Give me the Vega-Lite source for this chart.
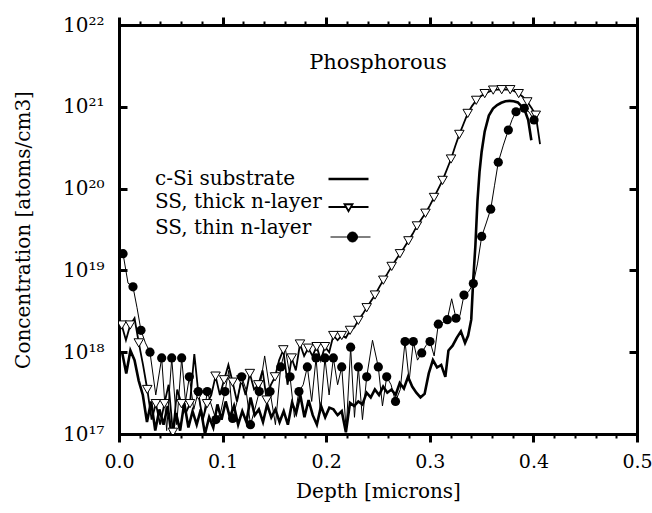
{
"$schema": "https://vega.github.io/schema/vega-lite/v6.json",
"width": 518, "height": 409,
"autosize": "none",
"padding": {"left": 119, "top": 25, "right": 15, "bottom": 79},
"background": "white",
"title": {"text": "Phosphorous", "offset": -58, "fontSize": 21, "font": "DejaVu Serif", "fontWeight": "normal", "color": "black", "anchor": "middle"},
"config": {"view": {"stroke": null}, "font": "DejaVu Serif"},
"data": {"values": [
{"s":"C","x":0.003,"y":1.0e18},{"s":"C","x":0.007,"y":5.5e17},{"s":"C","x":0.011,"y":1.05e18},{"s":"C","x":0.015,"y":8.0e17},{"s":"C","x":0.019,"y":4.5e17},{"s":"C","x":0.023,"y":3.0e17},{"s":"C","x":0.027,"y":1.4e17},{"s":"C","x":0.031,"y":2.5e17},{"s":"C","x":0.035,"y":1.1e17},{"s":"C","x":0.039,"y":2.0e17},{"s":"C","x":0.043,"y":1.3e17},{"s":"C","x":0.047,"y":2.2e17},{"s":"C","x":0.051,"y":9e16},{"s":"C","x":0.055,"y":1.8e17},{"s":"C","x":0.059,"y":1.1e17},{"s":"C","x":0.063,"y":2.4e17},{"s":"C","x":0.067,"y":1.2e17},{"s":"C","x":0.071,"y":1.9e17},{"s":"C","x":0.075,"y":1.3e17},{"s":"C","x":0.079,"y":2.0e17},{"s":"C","x":0.083,"y":1.0e17},{"s":"C","x":0.087,"y":1.6e17},{"s":"C","x":0.091,"y":1.2e17},{"s":"C","x":0.095,"y":2.3e17},{"s":"C","x":0.099,"y":1.5e17},{"s":"C","x":0.103,"y":2.5e17},{"s":"C","x":0.107,"y":1.6e17},{"s":"C","x":0.111,"y":2.2e17},{"s":"C","x":0.115,"y":1.3e17},{"s":"C","x":0.119,"y":1.9e17},{"s":"C","x":0.123,"y":1.4e17},{"s":"C","x":0.127,"y":2.8e17},{"s":"C","x":0.131,"y":1.7e17},{"s":"C","x":0.135,"y":2.0e17},{"s":"C","x":0.139,"y":1.4e17},{"s":"C","x":0.143,"y":2.3e17},{"s":"C","x":0.147,"y":1.6e17},{"s":"C","x":0.151,"y":2.0e17},{"s":"C","x":0.155,"y":1.4e17},{"s":"C","x":0.159,"y":1.9e17},{"s":"C","x":0.163,"y":1.3e17},{"s":"C","x":0.167,"y":2.4e17},{"s":"C","x":0.171,"y":1.8e17},{"s":"C","x":0.175,"y":3.0e17},{"s":"C","x":0.179,"y":1.6e17},{"s":"C","x":0.183,"y":2.6e17},{"s":"C","x":0.187,"y":1.7e17},{"s":"C","x":0.191,"y":1.3e17},{"s":"C","x":0.195,"y":2.2e17},{"s":"C","x":0.199,"y":1.6e17},{"s":"C","x":0.203,"y":2.1e17},{"s":"C","x":0.207,"y":2.0e17},{"s":"C","x":0.211,"y":1.7e17},{"s":"C","x":0.215,"y":1.9e17},{"s":"C","x":0.219,"y":1.05e17},{"s":"C","x":0.223,"y":2.4e17},{"s":"C","x":0.227,"y":2.2e17},{"s":"C","x":0.231,"y":2.5e17},{"s":"C","x":0.235,"y":2.3e17},{"s":"C","x":0.239,"y":3.2e17},{"s":"C","x":0.243,"y":2.8e17},{"s":"C","x":0.247,"y":3.5e17},{"s":"C","x":0.251,"y":3.0e17},{"s":"C","x":0.255,"y":3.8e17},{"s":"C","x":0.259,"y":3.2e17},{"s":"C","x":0.263,"y":3.5e17},{"s":"C","x":0.267,"y":3.0e17},{"s":"C","x":0.271,"y":4.2e17},{"s":"C","x":0.275,"y":3.6e17},{"s":"C","x":0.279,"y":5.0e17},{"s":"C","x":0.283,"y":3.8e17},{"s":"C","x":0.287,"y":3.2e17},{"s":"C","x":0.291,"y":2.8e17},{"s":"C","x":0.295,"y":3.1e17},{"s":"C","x":0.299,"y":5.5e17},{"s":"C","x":0.303,"y":8.0e17},{"s":"C","x":0.307,"y":6.5e17},{"s":"C","x":0.311,"y":7.0e17},{"s":"C","x":0.315,"y":5.0e17},{"s":"C","x":0.318,"y":1.05e18},{"s":"C","x":0.322,"y":1.2e18},{"s":"C","x":0.326,"y":1.5e18},{"s":"C","x":0.330,"y":1.8e18},{"s":"C","x":0.334,"y":1.3e18},{"s":"C","x":0.337,"y":1.6e18},{"s":"C","x":0.340,"y":2.5e18},{"s":"C","x":0.342,"y":8.0e18},{"s":"C","x":0.344,"y":2.0e19},{"s":"C","x":0.346,"y":7.0e19},{"s":"C","x":0.348,"y":1.6e20},{"s":"C","x":0.350,"y":2.8e20},{"s":"C","x":0.353,"y":5.0e20},{"s":"C","x":0.357,"y":7.8e20},{"s":"C","x":0.361,"y":9.5e20},{"s":"C","x":0.365,"y":1.05e21},{"s":"C","x":0.369,"y":1.12e21},{"s":"C","x":0.373,"y":1.17e21},{"s":"C","x":0.377,"y":1.18e21},{"s":"C","x":0.381,"y":1.17e21},{"s":"C","x":0.385,"y":1.13e21},{"s":"C","x":0.389,"y":1.0e21},{"s":"C","x":0.392,"y":8.8e20},{"s":"C","x":0.395,"y":6.9e20},{"s":"C","x":0.398,"y":3.9e20},
{"s":"B","x":0.0026,"y":2.15e18},{"s":"B","x":0.0067,"y":1.4e18},{"s":"B","x":0.0108,"y":2.15e18},{"s":"B","x":0.0150,"y":2.6e18},{"s":"B","x":0.0191,"y":1.3e18},{"s":"B","x":0.0232,"y":7e17},{"s":"B","x":0.0273,"y":3.5e17},{"s":"B","x":0.0315,"y":1.5e17},{"s":"B","x":0.0356,"y":2.35e17},{"s":"B","x":0.0397,"y":1.3e17},{"s":"B","x":0.0438,"y":2.35e17},{"s":"B","x":0.0479,"y":4e17},{"s":"B","x":0.0520,"y":1.05e17},{"s":"B","x":0.0562,"y":3.5e17},{"s":"B","x":0.0603,"y":2.35e17},{"s":"B","x":0.0644,"y":1.8e17},{"s":"B","x":0.0685,"y":2.35e17},{"s":"B","x":0.0727,"y":9.5e17},{"s":"B","x":0.0768,"y":3.0e17},{"s":"B","x":0.0809,"y":1.5e17},{"s":"B","x":0.0850,"y":2.35e17},{"s":"B","x":0.0891,"y":3e17},{"s":"B","x":0.0932,"y":5.1e17},{"s":"B","x":0.0974,"y":3e17},{"s":"B","x":0.1015,"y":4.6e17},{"s":"B","x":0.1056,"y":7e17},{"s":"B","x":0.1097,"y":4.3e17},{"s":"B","x":0.1139,"y":2.5e17},{"s":"B","x":0.1181,"y":4.6e17},{"s":"B","x":0.1222,"y":3e17},{"s":"B","x":0.1263,"y":5.5e17},{"s":"B","x":0.1304,"y":3.5e17},{"s":"B","x":0.1345,"y":4.0e17},{"s":"B","x":0.1386,"y":6e17},{"s":"B","x":0.1426,"y":2.6e17},{"s":"B","x":0.1466,"y":4e17},{"s":"B","x":0.1506,"y":5.0e17},{"s":"B","x":0.1546,"y":8e17},{"s":"B","x":0.1586,"y":1.07e18},{"s":"B","x":0.1627,"y":4e17},{"s":"B","x":0.1667,"y":8.5e17},{"s":"B","x":0.1707,"y":6e17},{"s":"B","x":0.1747,"y":1.26e18},{"s":"B","x":0.1787,"y":9e17},{"s":"B","x":0.1827,"y":1.12e18},{"s":"B","x":0.1868,"y":9e17},{"s":"B","x":0.1908,"y":1.17e18},{"s":"B","x":0.1948,"y":8e17},{"s":"B","x":0.1988,"y":1.17e18},{"s":"B","x":0.2029,"y":1.0e18},{"s":"B","x":0.2069,"y":1.6e18},{"s":"B","x":0.2110,"y":1.4e18},{"s":"B","x":0.2150,"y":1.6e18},{"s":"B","x":0.2190,"y":1.5e18},{"s":"B","x":0.2230,"y":1.85e18},{"s":"B","x":0.2270,"y":2.0e18},{"s":"B","x":0.2310,"y":2.45e18},{"s":"B","x":0.2351,"y":2.9e18},{"s":"B","x":0.2391,"y":3.5e18},{"s":"B","x":0.2431,"y":4.2e18},{"s":"B","x":0.2471,"y":5.0e18},{"s":"B","x":0.2511,"y":6.2e18},{"s":"B","x":0.2551,"y":7.6e18},{"s":"B","x":0.2592,"y":9.2e18},{"s":"B","x":0.2632,"y":1.12e19},{"s":"B","x":0.2672,"y":1.34e19},{"s":"B","x":0.2712,"y":1.6e19},{"s":"B","x":0.2753,"y":1.9e19},{"s":"B","x":0.2794,"y":2.3e19},{"s":"B","x":0.2835,"y":2.8e19},{"s":"B","x":0.2876,"y":3.5e19},{"s":"B","x":0.2917,"y":4.2e19},{"s":"B","x":0.2958,"y":5.0e19},{"s":"B","x":0.3000,"y":6.2e19},{"s":"B","x":0.3041,"y":7.8e19},{"s":"B","x":0.3082,"y":9.9e19},{"s":"B","x":0.3123,"y":1.26e20},{"s":"B","x":0.3164,"y":1.7e20},{"s":"B","x":0.3205,"y":2.3e20},{"s":"B","x":0.3245,"y":3.3e20},{"s":"B","x":0.3285,"y":4.6e20},{"s":"B","x":0.3326,"y":6.2e20},{"s":"B","x":0.3366,"y":8.3e20},{"s":"B","x":0.3407,"y":1.02e21},{"s":"B","x":0.3448,"y":1.2e21},{"s":"B","x":0.3489,"y":1.34e21},{"s":"B","x":0.3530,"y":1.45e21},{"s":"B","x":0.3571,"y":1.53e21},{"s":"B","x":0.3612,"y":1.6e21},{"s":"B","x":0.3653,"y":1.62e21},{"s":"B","x":0.3694,"y":1.62e21},{"s":"B","x":0.3735,"y":1.63e21},{"s":"B","x":0.3776,"y":1.62e21},{"s":"B","x":0.3817,"y":1.55e21},{"s":"B","x":0.3858,"y":1.45e21},{"s":"B","x":0.3900,"y":1.32e21},{"s":"B","x":0.3941,"y":1.15e21},{"s":"B","x":0.3982,"y":9.7e20},{"s":"B","x":0.4023,"y":7.9e20},{"s":"B","x":0.4064,"y":3.5e20},
{"s":"A","x":0.0039,"y":1.6e19},{"s":"A","x":0.0087,"y":7.0e18},{"s":"A","x":0.0135,"y":6.3e18},{"s":"A","x":0.0174,"y":3.5e18},{"s":"A","x":0.0212,"y":1.85e18},{"s":"A","x":0.0255,"y":1.3e18},{"s":"A","x":0.0299,"y":1.0e18},{"s":"A","x":0.0355,"y":3.0e17},{"s":"A","x":0.0412,"y":8.5e17},{"s":"A","x":0.0460,"y":1.1e17},{"s":"A","x":0.0509,"y":8.5e17},{"s":"A","x":0.0557,"y":1.3e17},{"s":"A","x":0.0605,"y":8.5e17},{"s":"A","x":0.0642,"y":2.5e17},{"s":"A","x":0.0679,"y":5.0e17},{"s":"A","x":0.0722,"y":2.0e17},{"s":"A","x":0.0765,"y":3.3e17},{"s":"A","x":0.0808,"y":1.4e17},{"s":"A","x":0.0852,"y":3.3e17},{"s":"A","x":0.0894,"y":2.2e17},{"s":"A","x":0.0936,"y":1.5e17},{"s":"A","x":0.0980,"y":1.8e17},{"s":"A","x":0.1023,"y":3.3e17},{"s":"A","x":0.1060,"y":6.0e17},{"s":"A","x":0.1097,"y":1.55e17},{"s":"A","x":0.1140,"y":2.5e17},{"s":"A","x":0.1184,"y":5.0e17},{"s":"A","x":0.1226,"y":3.5e17},{"s":"A","x":0.1269,"y":1.3e17},{"s":"A","x":0.1311,"y":2.0e17},{"s":"A","x":0.1354,"y":3.3e17},{"s":"A","x":0.1406,"y":9.0e17},{"s":"A","x":0.1458,"y":3.3e17},{"s":"A","x":0.1510,"y":1.3e17},{"s":"A","x":0.1561,"y":6.6e17},{"s":"A","x":0.1606,"y":1.1e18},{"s":"A","x":0.1651,"y":5.0e17},{"s":"A","x":0.1694,"y":1.6e17},{"s":"A","x":0.1737,"y":3.3e17},{"s":"A","x":0.1778,"y":4.0e17},{"s":"A","x":0.1818,"y":6.6e17},{"s":"A","x":0.1860,"y":2.5e17},{"s":"A","x":0.1902,"y":8.5e17},{"s":"A","x":0.1945,"y":1.8e17},{"s":"A","x":0.1988,"y":8.5e17},{"s":"A","x":0.2028,"y":3.0e17},{"s":"A","x":0.2069,"y":8.5e17},{"s":"A","x":0.2110,"y":4.0e17},{"s":"A","x":0.2150,"y":6.6e17},{"s":"A","x":0.2193,"y":1.1e17},{"s":"A","x":0.2236,"y":1.15e18},{"s":"A","x":0.2273,"y":1.6e17},{"s":"A","x":0.2310,"y":6.6e17},{"s":"A","x":0.2350,"y":1.5e17},{"s":"A","x":0.2391,"y":5.0e17},{"s":"A","x":0.2447,"y":1.4e18},{"s":"A","x":0.2503,"y":6.6e17},{"s":"A","x":0.2543,"y":2.2e17},{"s":"A","x":0.2584,"y":5.0e17},{"s":"A","x":0.2626,"y":4.0e17},{"s":"A","x":0.2669,"y":2.5e17},{"s":"A","x":0.2715,"y":3.5e17},{"s":"A","x":0.2761,"y":1.35e18},{"s":"A","x":0.2801,"y":4.5e17},{"s":"A","x":0.2841,"y":1.35e18},{"s":"A","x":0.2881,"y":8.0e17},{"s":"A","x":0.2922,"y":9.8e17},{"s":"A","x":0.2962,"y":1.2e18},{"s":"A","x":0.3002,"y":1.35e18},{"s":"A","x":0.3042,"y":9.0e17},{"s":"A","x":0.3082,"y":2.2e18},{"s":"A","x":0.3125,"y":2.3e18},{"s":"A","x":0.3169,"y":2.5e18},{"s":"A","x":0.3211,"y":4.5e18},{"s":"A","x":0.3253,"y":2.6e18},{"s":"A","x":0.3291,"y":2.8e18},{"s":"A","x":0.3330,"y":5.0e18},{"s":"A","x":0.3375,"y":5.5e18},{"s":"A","x":0.3420,"y":6.9e18},{"s":"A","x":0.3460,"y":1.2e19},{"s":"A","x":0.3501,"y":2.6e19},{"s":"A","x":0.3545,"y":3.8e19},{"s":"A","x":0.3588,"y":5.6e19},{"s":"A","x":0.3625,"y":1.1e20},{"s":"A","x":0.3661,"y":2.1e20},{"s":"A","x":0.3710,"y":3.4e20},{"s":"A","x":0.3758,"y":5.2e20},{"s":"A","x":0.3795,"y":7.0e20},{"s":"A","x":0.3832,"y":8.7e20},{"s":"A","x":0.3872,"y":9.5e20},{"s":"A","x":0.3912,"y":9.6e20},{"s":"A","x":0.3959,"y":8.6e20},{"s":"A","x":0.4006,"y":6.9e20}
]},
"resolve": {"axis": {"x": "independent", "y": "independent"}},
"layer": [
{
"mark": {"type": "line", "clip": true, "strokeJoin": "miter"},
"encoding": {
"x": {"field": "x", "type": "quantitative", "scale": {"domain": [0, 0.5], "nice": false, "zero": false},
"axis": {"orient": "bottom", "values": [0,0.02,0.04,0.06,0.08,0.1,0.12,0.14,0.16,0.18,0.2,0.22,0.24,0.26,0.28,0.3,0.32,0.34,0.36,0.38,0.4,0.42,0.44,0.46,0.48,0.5],
"labelExpr": "abs(datum.value*10-round(datum.value*10))<0.01 ? format(datum.value,'.1f') : ''",
"tickSize": {"condition": {"test": "abs(datum.value*10-round(datum.value*10))<0.01", "value": 8}, "value": 4},
"tickWidth": {"condition": {"test": "abs(datum.value*10-round(datum.value*10))<0.01", "value": 3}, "value": 2},
"tickColor": "black", "domainColor": "black", "domainWidth": 3, "domainCap": "square", "grid": false,
"labelFont": "DejaVu Serif", "labelFontSize": 19, "labelColor": "black", "labelPadding": 10, "labelFlush": false, "labelOverlap": false,
"title": "Depth [microns]", "titleFont": "DejaVu Serif", "titleFontSize": 20, "titleFontWeight": "normal", "titleColor": "black", "titlePadding": 10}},
"y": {"field": "y", "type": "quantitative", "scale": {"type": "log", "domain": [1e17, 1e22], "nice": false},
"axis": {"orient": "left", "values": [1e17,1e18,1e19,1e20,1e21,1e22],
"labelExpr": "'10' + ['⁰','¹','²','³','⁴','⁵','⁶','⁷','⁸','⁹'][floor(round(log(datum.value)/LN10)/10)] + ['⁰','¹','²','³','⁴','⁵','⁶','⁷','⁸','⁹'][round(log(datum.value)/LN10)%10]",
"tickSize": -8, "tickWidth": 3, "tickColor": "black", "domainColor": "black", "domainWidth": 3, "domainCap": "square", "grid": false,
"labelFont": "DejaVu Serif", "labelFontSize": 20, "labelColor": "black", "labelPadding": 23, "labelFlush": false, "labelOverlap": false,
"title": "Concentration [atoms/cm3]", "titleFont": "DejaVu Serif", "titleFontSize": 20, "titleFontWeight": "normal", "titleColor": "black", "titlePadding": 29}},
"color": {"field": "s", "type": "nominal", "scale": {"domain": ["C", "B", "A"], "range": ["black", "black", "black"]},
"legend": {"orient": "none", "legendX": 12, "legendY": 144, "title": null, "padding": 0,
"labelFont": "DejaVu Serif", "labelFontSize": 20, "labelColor": "black", "labelLimit": 0, "labelOffset": 4,
"symbolSize": 100, "rowPadding": 3,
"labelExpr": "datum.value == 'C' ? 'c-Si substrate' : datum.value == 'B' ? 'SS, thick n-layer' : 'SS, thin n-layer'",
"encode": {"symbols": {"update": {
"shape": {"signal": "datum.value == 'C' ? 'M37.5,0H45.5' : datum.value == 'B' ? 'M37.5,1.0H41M42,1.0H45.5M40.7,0.45L42.3,0.45L41.5,1.85Z' : 'M37.9,1.8H45.9M43.3,1.8A1,1 0 1,1 41.3,1.8A1,1 0 1,1 43.3,1.8Z'"},
"fill": {"signal": "datum.value == 'A' ? 'black' : datum.value == 'B' ? 'white' : 'transparent'"},
"stroke": {"value": "black"},
"strokeWidth": {"signal": "datum.value == 'C' ? 3 : 1"},
"size": {"value": 100},
"opacity": {"value": 1}}}}}},
"strokeWidth": {"field": "s", "type": "nominal", "scale": {"domain": ["C", "B", "A"], "range": [2.6, 1, 1]}, "legend": null}
}
},
{
"transform": [{"filter": "datum.s == 'B'"}, {"window": [{"op": "row_number", "as": "i"}]}, {"filter": "datum.i % 2 == 1"}],
"mark": {"type": "point", "shape": "triangle-down", "filled": true, "fill": "white", "stroke": "black", "strokeWidth": 1, "size": 90, "opacity": 1, "clip": true},
"encoding": {
"x": {"field": "x", "type": "quantitative", "scale": {"domain": [0, 0.5], "nice": false, "zero": false},
"axis": {"orient": "top", "values": [0,0.02,0.04,0.06,0.08,0.1,0.12,0.14,0.16,0.18,0.2,0.22,0.24,0.26,0.28,0.3,0.32,0.34,0.36,0.38,0.4,0.42,0.44,0.46,0.48,0.5], "labels": false, "title": null,
"tickSize": {"condition": {"test": "abs(datum.value*10-round(datum.value*10))<0.01", "value": 8}, "value": 4},
"tickWidth": {"condition": {"test": "abs(datum.value*10-round(datum.value*10))<0.01", "value": 3}, "value": 2},
"tickColor": "black", "domainColor": "black", "domainWidth": 3, "domainCap": "square", "grid": false}},
"y": {"field": "y", "type": "quantitative", "scale": {"type": "log", "domain": [1e17, 1e22], "nice": false},
"axis": {"orient": "right", "values": [1e17,1e18,1e19,1e20,1e21,1e22], "labels": false, "title": null,
"tickSize": -8, "tickWidth": 3, "tickColor": "black", "domainColor": "black", "domainWidth": 3, "domainCap": "square", "grid": false}}
}
},
{
"transform": [{"filter": "datum.s == 'A'"}, {"window": [{"op": "row_number", "as": "i"}]}, {"filter": "datum.i % 2 == 1"}],
"mark": {"type": "circle", "color": "black", "size": 85, "opacity": 1, "clip": true},
"encoding": {
"x": {"field": "x", "type": "quantitative", "scale": {"domain": [0, 0.5], "nice": false, "zero": false}, "axis": null},
"y": {"field": "y", "type": "quantitative", "scale": {"type": "log", "domain": [1e17, 1e22], "nice": false}, "axis": null}
}
}
]
}
